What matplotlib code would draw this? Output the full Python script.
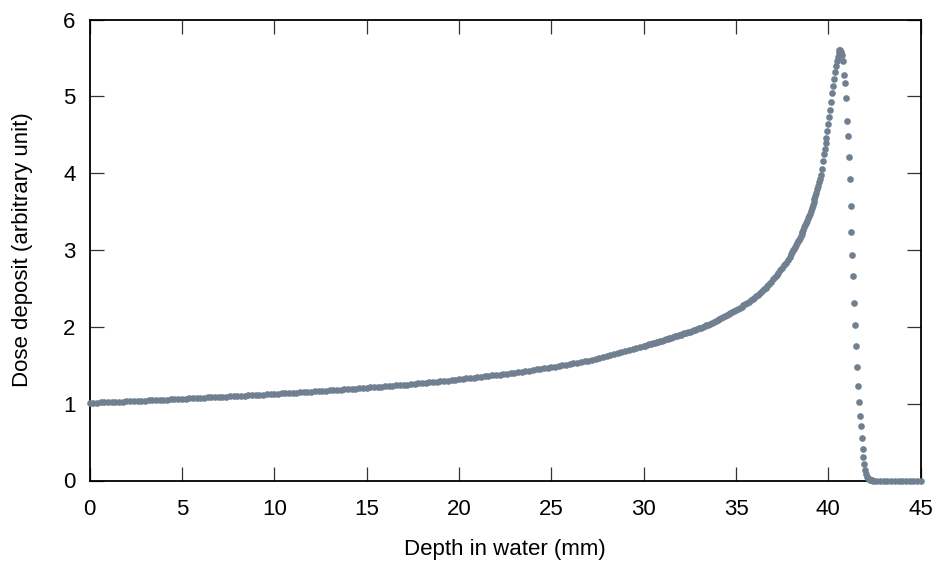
import numpy as np
import matplotlib
matplotlib.use("Agg")
import matplotlib.pyplot as plt

plt.rcParams['font.family'] = ['Liberation Sans', 'DejaVu Sans']

# ---- data ----
# 0 - 30 mm, every 0.2 mm
depth_a = np.round(np.arange(0, 150) * 0.2, 2)
dose_a = [
    1.010, 1.012, 1.014, 1.016, 1.018,
    1.020, 1.022, 1.024, 1.026, 1.028,
    1.030, 1.032, 1.034, 1.036, 1.038,
    1.040, 1.042, 1.045, 1.047, 1.050,
    1.052, 1.054, 1.057, 1.059, 1.062,
    1.064, 1.066, 1.069, 1.071, 1.074,
    1.076, 1.078, 1.081, 1.083, 1.086,
    1.088, 1.090, 1.093, 1.095, 1.098,
    1.100, 1.103, 1.105, 1.108, 1.110,
    1.113, 1.116, 1.119, 1.122, 1.124,
    1.127, 1.130, 1.133, 1.136, 1.138,
    1.141, 1.144, 1.147, 1.150, 1.153,
    1.156, 1.159, 1.162, 1.166, 1.169,
    1.172, 1.175, 1.179, 1.182, 1.186,
    1.189, 1.193, 1.196, 1.200, 1.203,
    1.207, 1.211, 1.215, 1.218, 1.222,
    1.226, 1.230, 1.234, 1.238, 1.242,
    1.246, 1.250, 1.255, 1.259, 1.264,
    1.268, 1.273, 1.278, 1.282, 1.287,
    1.292, 1.297, 1.302, 1.307, 1.313,
    1.318, 1.323, 1.329, 1.334, 1.340,
    1.345, 1.351, 1.357, 1.362, 1.368,
    1.374, 1.380, 1.386, 1.393, 1.399,
    1.405, 1.412, 1.419, 1.425, 1.432,
    1.439, 1.446, 1.454, 1.461, 1.469,
    1.476, 1.484, 1.492, 1.500, 1.508,
    1.516, 1.525, 1.534, 1.542, 1.551,
    1.560, 1.571, 1.582, 1.593, 1.604,
    1.615, 1.628, 1.641, 1.654, 1.667,
    1.680, 1.694, 1.708, 1.722, 1.736,
]

# 30 - 38 mm, every 0.1 mm
depth_b = np.round(30.0 + np.arange(0, 80) * 0.1, 2)
dose_b = [
    1.750, 1.757, 1.764, 1.771, 1.778, 1.785, 1.792, 1.799, 1.806, 1.813,
    1.820, 1.828, 1.836, 1.844, 1.852, 1.860, 1.868, 1.876, 1.884, 1.892,
    1.900, 1.908, 1.916, 1.924, 1.932, 1.940, 1.948, 1.956, 1.964, 1.972,
    1.980, 1.990, 2.000, 2.010, 2.020, 2.030, 2.040, 2.050, 2.060, 2.075,
    2.090, 2.102, 2.114, 2.126, 2.138, 2.150, 2.163, 2.176, 2.189, 2.204,
    2.220, 2.235, 2.250, 2.265, 2.280, 2.296, 2.312, 2.329, 2.346, 2.363,
    2.380, 2.400, 2.421, 2.442, 2.464, 2.487, 2.511, 2.536, 2.562, 2.590,
    2.620, 2.648, 2.677, 2.707, 2.738, 2.770, 2.803, 2.837, 2.872, 2.910,
]

# 38 - 42.35 mm, every 0.05 mm (peak and distal fall-off)
depth_c = np.round(38.0 + np.arange(0, 88) * 0.05, 2)
dose_c = [
    2.950, 2.972, 2.995, 3.018, 3.041, 3.064, 3.088, 3.112, 3.137, 3.162,
    3.188, 3.214, 3.241, 3.268, 3.296, 3.324, 3.353, 3.382, 3.412, 3.444,
    3.476, 3.510, 3.545, 3.582, 3.620, 3.660, 3.702, 3.745, 3.790, 3.836,
    3.883, 3.930, 3.980, 4.060, 4.160, 4.250, 4.320, 4.400, 4.460, 4.550,
    4.640, 4.730, 4.830, 4.930, 5.040, 5.140, 5.230, 5.320, 5.400, 5.460,
    5.520, 5.560, 5.600, 5.610, 5.580, 5.540, 5.460, 5.280, 5.170, 4.980,
    4.680, 4.480, 4.210, 3.930, 3.570, 3.230, 2.940, 2.660, 2.310, 2.020,
    1.750, 1.480, 1.230, 1.020, 0.840, 0.710, 0.550, 0.410, 0.300, 0.210,
    0.140, 0.090, 0.050, 0.030, 0.015, 0.007, 0.003, 0.001,
]

# 42.4 - 45 mm, every 0.2 mm
depth_d = np.round(42.4 + np.arange(0, 14) * 0.2, 2)
dose_d = [0.0] * 14

depth = np.concatenate([depth_a, depth_b, depth_c, depth_d])
dose = np.concatenate([dose_a, dose_b, dose_c, dose_d])

x_ticks = [0, 5, 10, 15, 20, 25, 30, 35, 40, 45]
y_ticks = [0, 1, 2, 3, 4, 5, 6]

# ---- figure ----
fig = plt.figure(figsize=(9.4, 5.64), dpi=100)
ax = fig.add_axes([89.5 / 940, 1 - 480.5 / 564, (920.7 - 89.5) / 940, (480.5 - 19.7) / 564])

ax.plot(depth, dose, linestyle='none', marker='o', markersize=4.8,
        markerfacecolor='#708090', markeredgewidth=0, clip_on=False, zorder=3)

ax.set_xlim(0, 45)
ax.set_ylim(0, 6)
ax.set_xticks(x_ticks)
ax.set_yticks(y_ticks)
ax.tick_params(axis='both', which='both', direction='in', length=10, width=0.9,
               color='#333333', labelsize=16, top=True, right=True)
ax.tick_params(axis='x', pad=13)
ax.tick_params(axis='y', pad=10)
for s in ax.spines.values():
    s.set_linewidth(1.3)
    s.set_color('black')

ax.set_xlabel('Depth in water (mm)', fontsize=16)
ax.set_ylabel('Dose deposit (arbitrary unit)', fontsize=16)
ax.xaxis.label.set_va('center')
ax.yaxis.label.set_va('center')
ax.xaxis.set_label_coords(0.5, (480.5 - 550) / 460.8)
ax.yaxis.set_label_coords((22 - 89.5) / 831.2, 0.5)

fig.savefig('out.png', dpi=100)
